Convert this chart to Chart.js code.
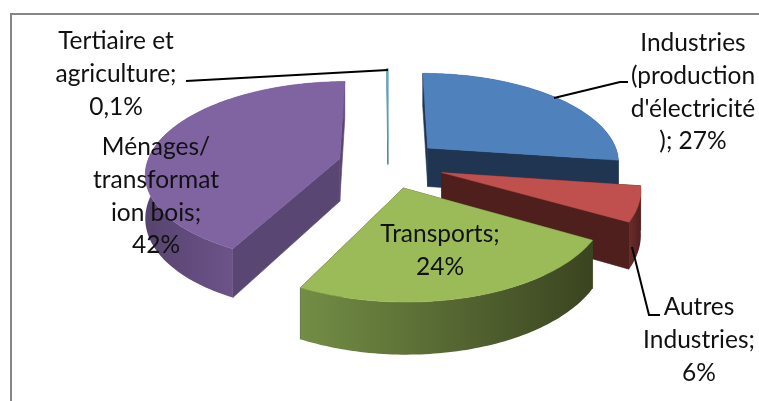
<!DOCTYPE html>
<html><head><meta charset="utf-8">
<style>html,body{margin:0;padding:0;background:#fff}canvas{display:block}</style>
<script src="https://cdn.jsdelivr.net/npm/chart.js@4"></script>
</head><body><canvas id="c" width="759" height="401"></canvas>
<script>
const categories = ["Industries (production d'électricité )","Autres Industries","Transports","Ménages/ transformation bois","Tertiaire et agriculture"];
const shareValues = [27, 6, 24, 42, 0.1];
const shareText = ["27%","6%","24%","42%","0,1%"];
const explode = [54, 56, 52, 50, 50];
const topColors = ["#4F81BD","#C0504D","#9BBB59","#8064A2","#4BACC6"];
const cutColors = ["#1F3552","#4F1F1E","#3F4A22","#5A4673","#3F7F92"];
const wallLeft = ["#1F3552","#6E2C2A","#738D45","#57436F","#8FC4D4"];
const wallRight = ["#1F3552","#4F1F1E","#3A4420","#6C5389","#8FC4D4"];
const depthFactor = [0.92, 1, 1, 1, 0.55];

const K = 0.465, P = 0.00075, DEPTH = 43;
function proj(c,x,v,h){const s=1/(1-v*P);return [c.x+x*s,c.y+(v*K+h)*s];}
function quad(ctx,a,b,c,d,col){ctx.fillStyle=col;ctx.strokeStyle=col;ctx.lineWidth=0.6;ctx.beginPath();
  ctx.moveTo(...a);ctx.lineTo(...b);ctx.lineTo(...c);ctx.lineTo(...d);ctx.closePath();ctx.fill();ctx.stroke();}

function drawSlice(ctx,arc,i){
  const c={x:arc.x,y:arc.y},R=arc.outerRadius,o=arc.options.offset;
  const s=arc.startAngle,e=arc.endAngle,m=(s+e)/2,ox=Math.cos(m)*o,oy=Math.sin(m)*o;
  const h=DEPTH*depthFactor[i];
  const n=Math.max(2,Math.ceil((e-s)/0.02));
  const pts=[];for(let j=0;j<=n;j++){const t=s+(e-s)*j/n;pts.push([ox+R*Math.cos(t),oy+R*Math.sin(t),t]);}
  // the two cut walls, far one first
  const cuts=[pts[0],pts[n]].sort((p,q)=>p[1]-q[1]);
  cuts.forEach(b=>quad(ctx,proj(c,ox,oy,0),proj(c,b[0],b[1],0),proj(c,b[0],b[1],h),proj(c,ox,oy,h),cutColors[i]));
  // outer curved wall, one polygon with a horizontal gradient over its front-facing part
  const up=pts.map(p=>proj(c,p[0],p[1],0)),down=pts.map(p=>proj(c,p[0],p[1],h));
  const front=up.filter((p,j)=>Math.sin(pts[j][2])>-0.05).map(p=>p[0]);
  const xs=front.length?front:up.map(p=>p[0]);
  const g=ctx.createLinearGradient(Math.min(...xs),0,Math.max(...xs)+0.01,0);
  g.addColorStop(0,wallLeft[i]);g.addColorStop(1,wallRight[i]);
  ctx.fillStyle=g;ctx.beginPath();
  up.forEach((p,j)=>j?ctx.lineTo(...p):ctx.moveTo(...p));
  down.slice().reverse().forEach(p=>ctx.lineTo(...p));
  ctx.closePath();ctx.fill();
  ctx.fillStyle=topColors[i];ctx.strokeStyle=topColors[i];ctx.lineWidth=0.5;ctx.beginPath();
  ctx.moveTo(...proj(c,ox,oy,0));pts.forEach(p=>ctx.lineTo(...proj(c,p[0],p[1],0)));ctx.closePath();ctx.fill();ctx.stroke();
}

const pie3d={id:'pie3d',
  beforeDraw(chart){const ctx=chart.ctx;ctx.save();ctx.strokeStyle='#868686';ctx.lineWidth=2;ctx.beginPath();
    ctx.moveTo(11,chart.height);ctx.lineTo(11,14);ctx.lineTo(chart.width,14);ctx.stroke();ctx.restore();},
  beforeDatasetDraw(chart,args){
    const ctx=chart.ctx,arcs=args.meta.data;
    const order=arcs.map((a,i)=>i).sort((p,q)=>{
      const mid=a=>(a.startAngle+a.endAngle)/2;
      return Math.sin(mid(arcs[p]))*arcs[p].options.offset-Math.sin(mid(arcs[q]))*arcs[q].options.offset;});
    ctx.save();order.forEach(i=>drawSlice(ctx,arcs[i],i));ctx.restore();
    return false;
  },
  afterDraw(chart){
    const ctx=chart.ctx;ctx.save();
    ctx.strokeStyle='#000';ctx.lineWidth=2;
    [[[186,81],[388,70]],[[554,98],[620,82],[628,82]],[[632,247],[649,315],[660,315]]].forEach(l=>{
      ctx.beginPath();l.forEach((p,i)=>i?ctx.lineTo(...p):ctx.moveTo(...p));ctx.stroke();});
    ctx.fillStyle='#111';ctx.font='24.5px Lato';ctx.textAlign='center';ctx.textBaseline='middle';
    const blocks=[
      {x:693,y:43,lines:["Industries","(production","d'électricité",");"+" "+shareText[0]]},
      {x:699,y:307,lines:["Autres","Industries;",shareText[1]]},
      {x:440,y:234,lines:["Transports;",shareText[2]]},
      {x:156,y:147,lines:["Ménages/","transformat","ion bois;",shareText[3]+""]},
      {x:116,y:41,lines:["Tertiaire et","agriculture;",shareText[4]]}];
    blocks.forEach(b=>b.lines.forEach((t,i)=>ctx.fillText(t,b.x,b.y+i*32.8)));
    ctx.restore();
  }
};

new Chart(document.getElementById('c'),{
  type:'pie',
  data:{labels:categories,datasets:[{data:shareValues,backgroundColor:topColors,offset:explode,borderWidth:0}]},
  options:{responsive:false,animation:false,radius:193,rotation:0,
    layout:{padding:{left:17,right:0,top:0,bottom:73}},
    plugins:{legend:{display:false},tooltip:{enabled:false}}},
  plugins:[pie3d]
});
</script></body></html>
